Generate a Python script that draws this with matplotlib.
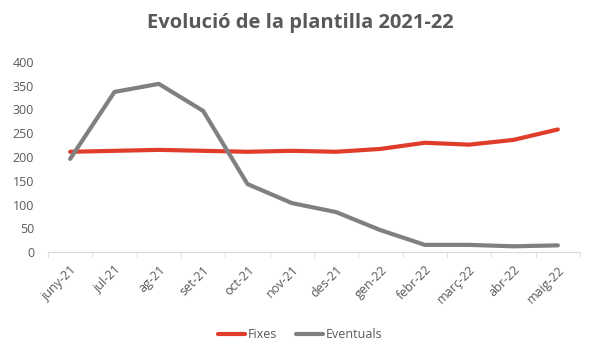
import numpy as np
import matplotlib.pyplot as plt

months = ['juny-21', 'jul-21', 'ag-21', 'set-21', 'oct-21', 'nov-21',
          'des-21', 'gen-22', 'febr-22', 'març-22', 'abr-22', 'maig-22']
fixes = [211, 213, 215, 213, 211, 213, 211, 217, 230, 226, 236, 258]
eventuals = [196, 337, 354, 297, 143, 103, 84, 46, 15, 15, 12, 14]

plt.rcParams['font.family'] = ['Open Sans', 'DejaVu Sans']
txt = '#595959'

fig = plt.figure(figsize=(6, 3.6), dpi=100)
ax = fig.add_axes([48 / 600, 1 - 252 / 360, 532 / 600, 190 / 360])

x = np.arange(len(months))
ax.plot(x, fixes, color='#e03c2a', lw=3, solid_capstyle='round', label='Fixes')
ax.plot(x, eventuals, color='#808080', lw=3, solid_capstyle='round', label='Eventuals')

ax.set_xlim(-0.5, len(months) - 0.5)
ax.set_ylim(0, 400)
ax.set_yticks(range(0, 401, 50))
ax.set_xticks(x)
ax.set_xticklabels(months, rotation=45, ha='right', rotation_mode='anchor')
ax.set_xticks(np.arange(-0.5, len(months), 1), minor=True)
ax.tick_params(axis='x', which='major', length=0, pad=8, labelsize=9, colors=txt)
ax.tick_params(axis='x', which='minor', length=4, color='#d9d9d9')
ax.tick_params(axis='y', length=0, labelsize=9, colors=txt, pad=10)

for s in ['top', 'right', 'left']:
    ax.spines[s].set_visible(False)
ax.spines['bottom'].set_color('#d9d9d9')

fig.suptitle('Evolució de la plantilla 2021-22', y=0.965, fontsize=14.5,
             fontweight='bold', color=txt)
fig.legend(loc='center', bbox_to_anchor=(0.5, 1 - 335 / 360), ncol=2, frameon=False,
           fontsize=9, labelcolor=txt, handlelength=2.2, handletextpad=0.2,
           columnspacing=1.5)

fig.savefig('out.png')
